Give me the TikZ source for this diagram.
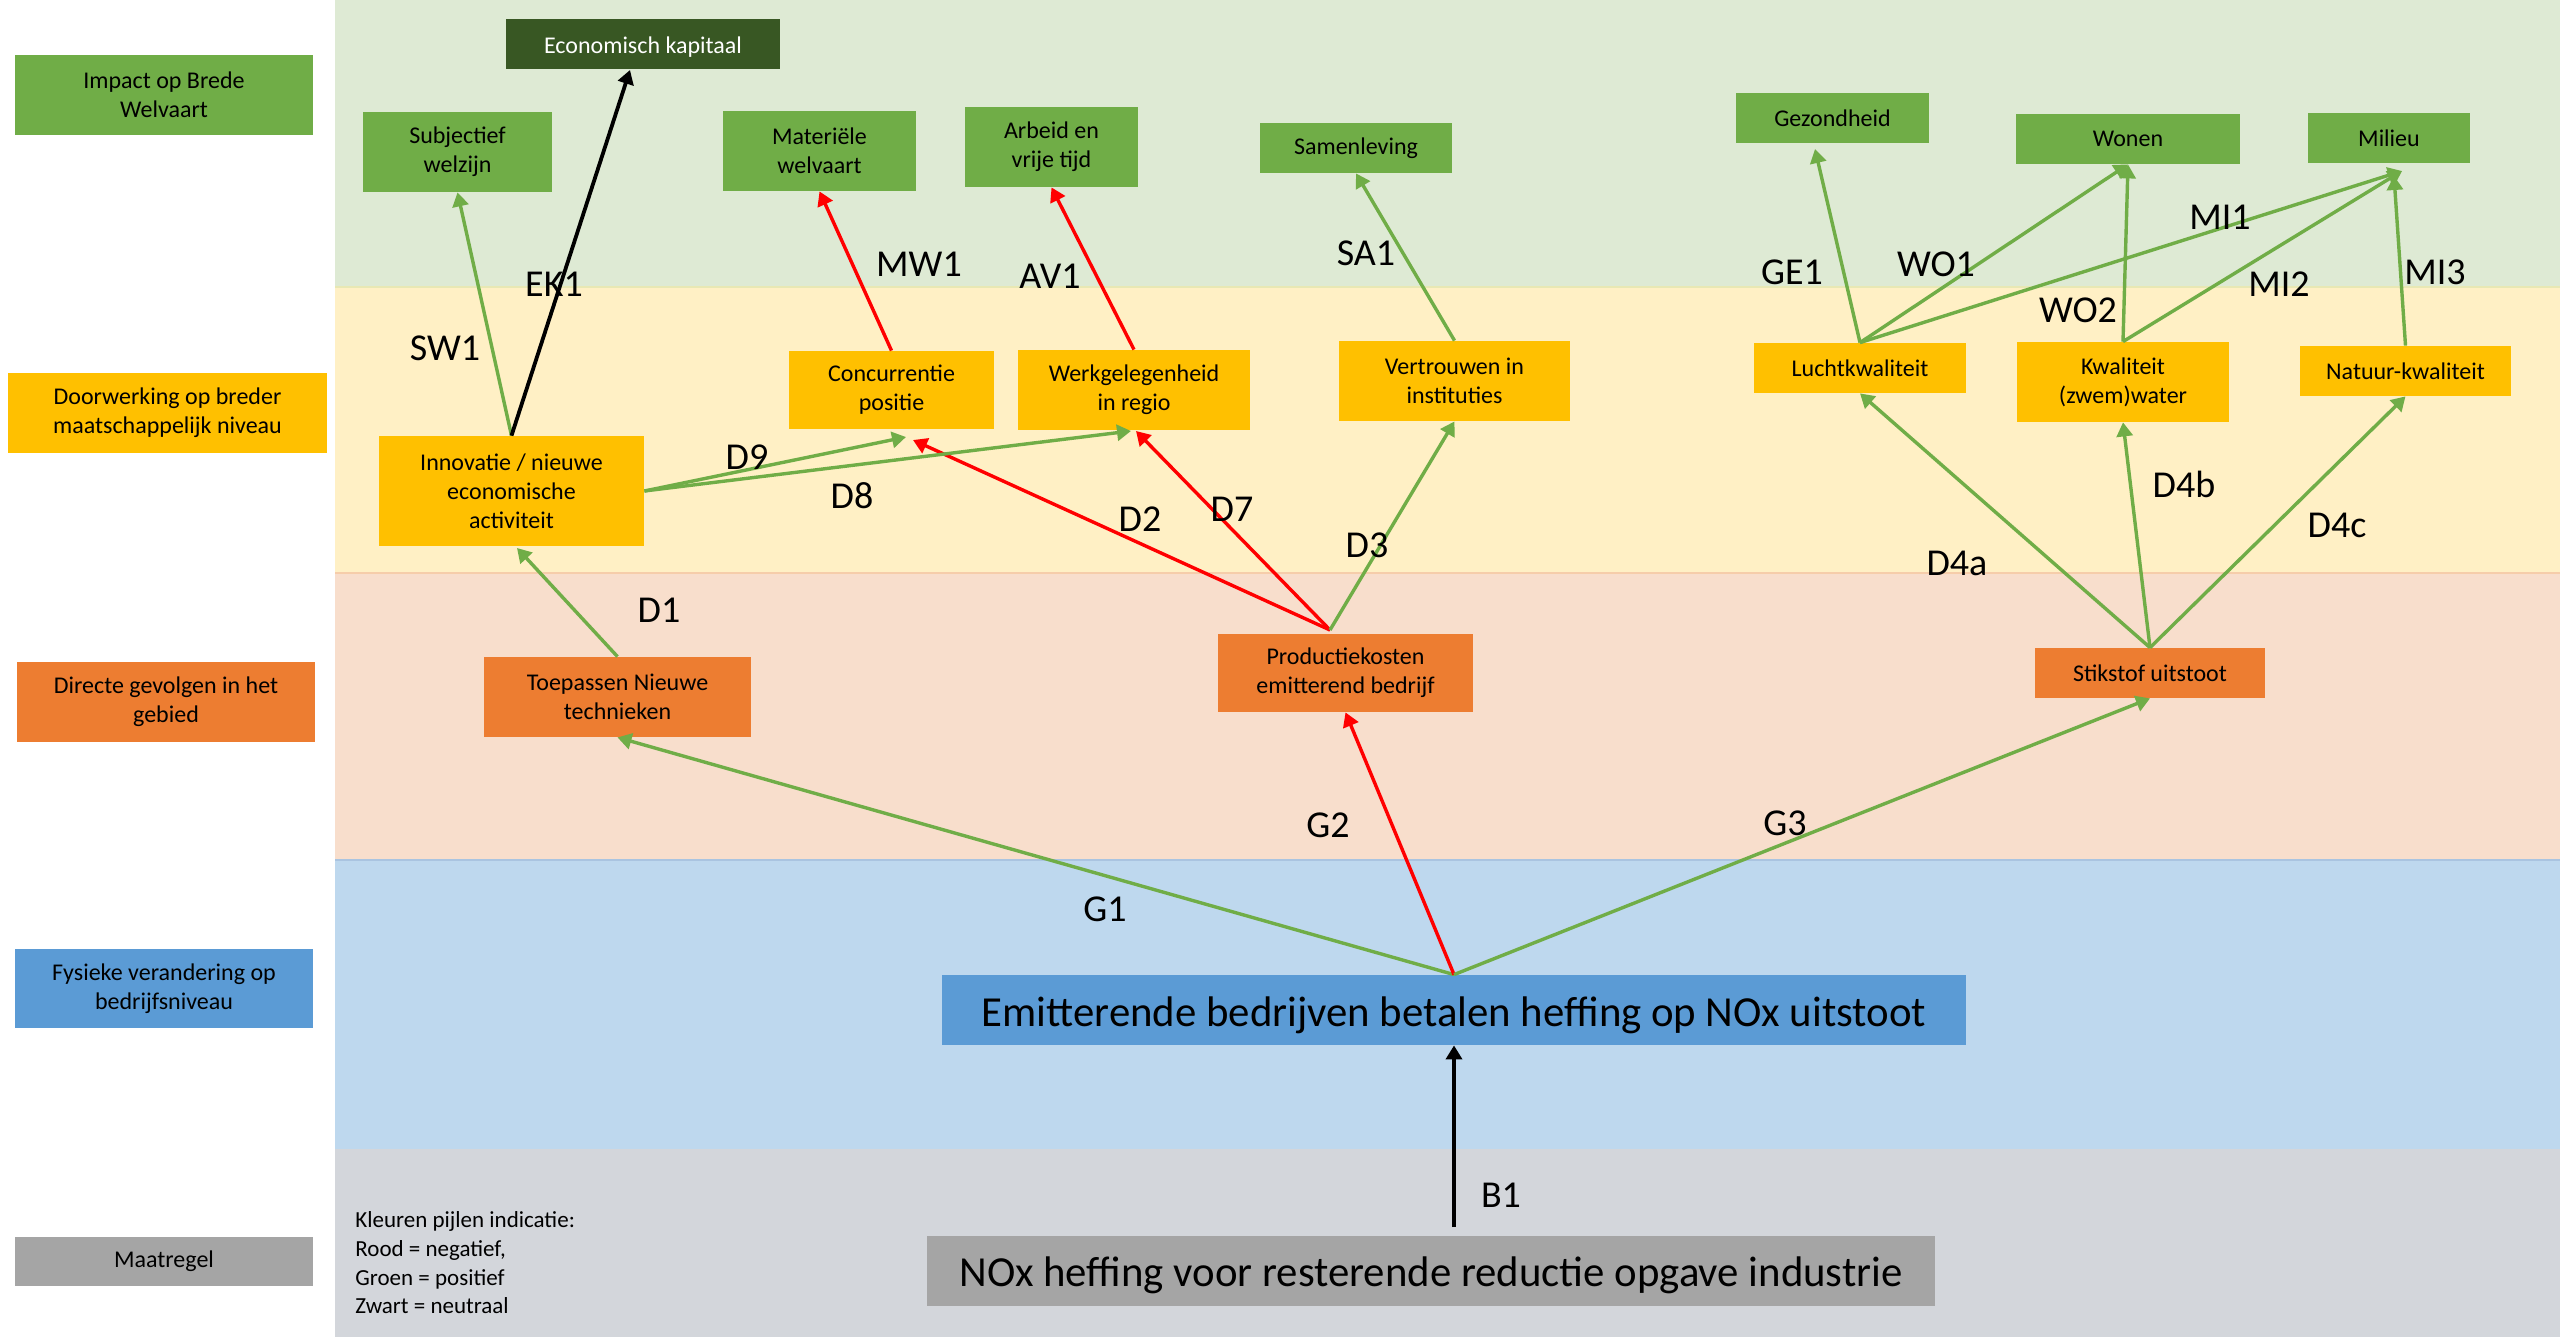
\documentclass[tikz,border=0pt]{standalone}
\usepackage{fontspec}
\setmainfont{Carlito}
\usetikzlibrary{arrows.meta}

\definecolor{bandgreen}{RGB}{222,234,212}
\definecolor{bandyellow}{RGB}{255,240,197}
\definecolor{bandpeach}{RGB}{248,222,204}
\definecolor{bandblue}{RGB}{190,216,238}
\definecolor{bandgray}{RGB}{211,214,219}
\definecolor{boxgreen}{HTML}{70AD47}
\definecolor{boxdark}{HTML}{385723}
\definecolor{boxyellow}{HTML}{FFC000}
\definecolor{boxorange}{HTML}{ED7D31}
\definecolor{boxblue}{HTML}{5B9BD5}
\definecolor{boxgray}{HTML}{A5A5A5}
\definecolor{arrgreen}{HTML}{70AD47}
\definecolor{arrred}{HTML}{FF0000}

% lower a single line of text without changing the node size
\newcommand\lowertext[2]{\raisebox{-#1}[\height][\depth]{#2}}

\tikzset{
  sz/.style 2 args={minimum width=#1*0.5pt, minimum height=#2*0.5pt},
  box/.style={draw=none, inner sep=0pt, align=center, text=black,
    font=\fontsize{12}{14.6}\selectfont},
  gbox/.style={box, fill=boxgreen},
  dbox/.style={box, fill=boxdark, text=white},
  ybox/.style={box, fill=boxyellow},
  obox/.style={box, fill=boxorange},
  bbox/.style={box, fill=boxblue},
  abox/.style={box, fill=boxgray},
  bigtext/.style={font=\fontsize{21.4}{25}\selectfont},
  lbl/.style={inner sep=0pt, font=\fontsize{19}{22}\selectfont},
  arrtip/.style={-{Triangle[length=7pt,width=8pt]}},
  posarr/.style={arrtip, draw=arrgreen, line width=1.7pt},
  negarr/.style={arrtip, draw=arrred, line width=1.7pt},
  neuarr/.style={arrtip, draw=black, line width=1.9pt},
}

\begin{document}
\begin{tikzpicture}[x=0.5pt, y=-0.5pt]
\useasboundingbox (0,0) rectangle (2560,1337);
\fill[white] (0,0) rectangle (2560,1337);

% horizontal bands
\fill[bandgreen]  (335,0)    rectangle (2560,287);
\fill[bandyellow] (335,287)  rectangle (2560,573);
\fill[bandpeach]  (335,573)  rectangle (2560,860);
\fill[bandblue]   (335,860)  rectangle (2560,1149);
\fill[bandgray]   (335,1149) rectangle (2560,1337);
\draw[line width=0.8pt, color={rgb,255:red,232;green,232;blue,180}] (335,287) -- (2560,287);
\draw[line width=0.8pt, color={rgb,255:red,246;green,205;blue,170}] (335,573) -- (2560,573);
\draw[line width=0.8pt, color={rgb,255:red,170;green,196;blue,224}] (335,860) -- (2560,860);

% level labels
\node[gbox, sz={298}{80}] (cat1) at (164,95) {Impact op Brede\\Welvaart};
\node[ybox, sz={319}{80}] (cat2) at (167.5,413) {Doorwerking op breder\\maatschappelijk niveau};
\node[obox, sz={298}{80}] (cat3) at (166,702) {Directe gevolgen in het\\gebied};
\node[bbox, sz={298}{79}] (cat4) at (164,988.5) {Fysieke verandering op\\bedrijfsniveau};
\node[abox, sz={298}{49}] (cat5) at (164,1261.5) {Maatregel};

% impact on broad welfare
\node[dbox, sz={274}{50}] (ek) at (643,44) {\lowertext{1.5pt}{Economisch kapitaal}};
\node[gbox, sz={189}{80}] (sw) at (457.5,152) {Subjectief\\welzijn};
\node[gbox, sz={193}{80}] (mw) at (819.5,151) {Materiële\\welvaart};
\node[gbox, sz={173}{80}] (av) at (1051.5,147) {Arbeid en\\vrije tijd};
\node[gbox, sz={192}{50}] (sa) at (1356,148) {Samenleving};
\node[gbox, sz={193}{50}] (ge) at (1832.5,118) {Gezondheid};
\node[gbox, sz={224}{50}] (wo) at (2128,139) {Wonen};
\node[gbox, sz={162}{50}] (mi) at (2389,138) {Milieu};

% wider societal effects
\node[ybox, sz={265}{110}] (inn) at (511.5,491) {Innovatie / nieuwe\\economische\\activiteit};
\node[ybox, sz={205}{78}] (con) at (891.5,390) {Concurrentie\\positie};
\node[ybox, sz={232}{80}] (wg) at (1134,390) {Werkgelegenheid\\in regio};
\node[ybox, sz={231}{80}] (vi) at (1454.5,381) {Vertrouwen in\\instituties};
\node[ybox, sz={212}{50}] (lk) at (1860,368) {Luchtkwaliteit};
\node[ybox, sz={212}{80}] (kw) at (2123,382) {Kwaliteit\\(zwem)water};
\node[ybox, sz={211}{50}] (nk) at (2405.5,371) {Natuur-kwaliteit};

% direct effects
\node[obox, sz={267}{80}] (tn) at (617.5,697) {Toepassen Nieuwe\\technieken};
\node[obox, sz={255}{78}] (pk) at (1345.5,673) {Productiekosten\\emitterend bedrijf};
\node[obox, sz={230}{50}] (st) at (2150,673) {Stikstof uitstoot};

% company level and measure
\node[bbox, sz={1024}{70}, bigtext] (em) at (1454,1010)
  {\lowertext{2.5pt}{Emitterende bedrijven betalen heffing op NOx uitstoot}};
\node[abox, sz={1008}{70}, bigtext] (nox) at (1431,1271)
  {\lowertext{2pt}{NOx heffing voor resterende reductie opgave industrie}};

% legend
\node[anchor=west, inner sep=0pt, align=left, font=\fontsize{11.5}{14.35}\selectfont] (leg) at (355,1263)
  {Kleuren pijlen indicatie:\\Rood = negatief,\\Groen = positief\\Zwart = neutraal};

% free arrow ends
\coordinate (ekin) at (630,70);
\coordinate (gein) at (1815,149);
\coordinate (miin) at (2402,171);
\coordinate (mi3in) at (2394,176);
\coordinate (pkout) at (1330,630);
\coordinate (d2in) at (913,440);
\coordinate (d7in) at (1136,431);
\coordinate (d9in) at (906,437);
\coordinate (d8in) at (1131,431);
\coordinate (d1in) at (517,548);
\coordinate (b1out) at (1454,1227);

% connectors
\draw[neuarr] (b1out) -- (em.south);
\draw[posarr] (em.north) -- (tn.south);
\draw[negarr] (em.north) -- (pk.south);
\draw[posarr] (em.north) -- (st.south);
\draw[posarr] (tn.north) -- (d1in);
\draw[negarr] (pkout) -- (d2in);
\draw[negarr] (pkout) -- (d7in);
\draw[posarr] (pkout) -- (vi.south);
\draw[posarr] (st.north) -- (lk.south);
\draw[posarr] (st.north) -- (kw.south);
\draw[posarr] (st.north) -- (nk.south);
\draw[posarr] (inn.east) -- (d9in);
\draw[posarr] (inn.east) -- (d8in);
\draw[posarr] (inn.north) -- (sw.south);
\draw[neuarr] (inn.north) -- (ekin);
\draw[negarr] (con.north) -- (mw.south);
\draw[negarr] (wg.north) -- (av.south);
\draw[posarr] (vi.north) -- (sa.south);
\draw[posarr] (lk.north) -- (gein);
\draw[posarr] (lk.north) -- (wo.south);
\draw[posarr] (lk.north) -- (miin);
\draw[posarr] (kw.north) -- (wo.south);
\draw[posarr] (kw.north) -- (miin);
\draw[posarr] (nk.north) -- (mi3in);

% connector labels
\node[lbl] (lEK1) at (554,284) {EK1};
\node[lbl] (lSW1) at (445,348) {SW1};
\node[lbl] (lMW1) at (919,264) {MW1};
\node[lbl] (lAV1) at (1050,276) {AV1};
\node[lbl] (lSA1) at (1366,253) {SA1};
\node[lbl] (lGE1) at (1792,272) {GE1};
\node[lbl] (lWO1) at (1936,264) {WO1};
\node[lbl] (lMI1) at (2220,217) {MI1};
\node[lbl] (lWO2) at (2078,310) {WO2};
\node[lbl] (lMI2) at (2279,284) {MI2};
\node[lbl] (lMI3) at (2435,272) {MI3};
\node[lbl] (lD9) at (747,457) {D9};
\node[lbl] (lD8) at (852,496) {D8};
\node[lbl] (lD2) at (1140,519) {D2};
\node[lbl] (lD7) at (1232,509) {D7};
\node[lbl] (lD3) at (1367,545) {D3};
\node[lbl] (lD1) at (659,610) {D1};
\node[lbl] (lD4a) at (1957,563) {D4a};
\node[lbl] (lD4b) at (2184,484) {D4b};
\node[lbl] (lD4c) at (2337,525) {D4c};
\node[lbl] (lG1) at (1105,909) {G1};
\node[lbl] (lG2) at (1328,825) {G2};
\node[lbl] (lG3) at (1785,823) {G3};
\node[lbl] (lB1) at (1501,1195) {B1};
\end{tikzpicture}
\end{document}
